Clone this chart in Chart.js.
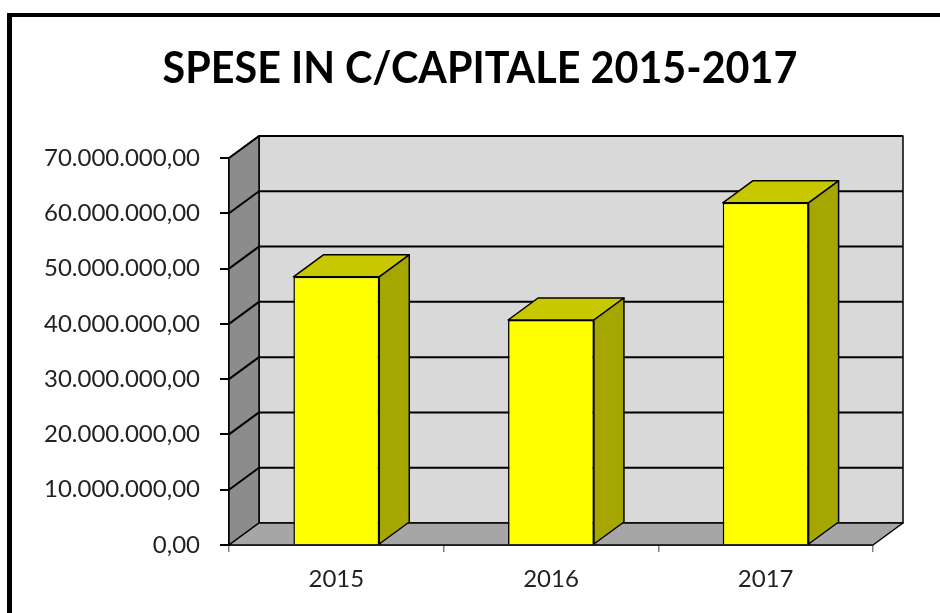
<!DOCTYPE html>
<html>
<head>
<meta charset="utf-8">
<script src="https://cdn.jsdelivr.net/npm/chart.js@4.4.1/dist/chart.umd.min.js"></script>
<style>
  html, body { margin: 0; padding: 0; background: #fff; }
  #wrap { position: relative; width: 940px; height: 613px; }
</style>
</head>
<body>
<div id="wrap"><canvas id="chart" width="940" height="613"></canvas></div>
<script>
// dati
const titolo = 'SPESE IN C/CAPITALE 2015-2017';
const anni = ['2015', '2016', '2017'];
const spese = [48500000, 40700000, 61900000];
const yMax = 70000000;
const yStep = 10000000;

// profondità 3D
const DX = 30;
const DY = 22;

// formato italiano 70.000.000,00
function formatIt(v) {
  const int = Math.round(v).toString().replace(/\B(?=(\d{3})+(?!\d))/g, '.');
  return int + ',00';
}

function poly(ctx, pts, fill) {
  ctx.beginPath();
  ctx.moveTo(pts[0][0], pts[0][1]);
  for (let i = 1; i < pts.length; i++) ctx.lineTo(pts[i][0], pts[i][1]);
  ctx.closePath();
  ctx.fillStyle = fill;
  ctx.fill();
  ctx.stroke();
}

const frame3d = {
  id: 'frame3d',
  beforeDraw(chart) {
    const ctx = chart.ctx;
    ctx.save();
    ctx.fillStyle = '#fff';
    ctx.fillRect(0, 0, chart.width, chart.height);
    // cornice
    ctx.fillStyle = '#000';
    ctx.fillRect(7, 13, chart.width - 7, 4);
    ctx.fillRect(7, 13, 5, chart.height - 13);
    // titolo (font un po' stretto come Calibri)
    ctx.translate(480, 83);
    ctx.scale(0.96, 1);
    ctx.font = 'bold 43px Lato';
    ctx.textAlign = 'center';
    ctx.textBaseline = 'alphabetic';
    ctx.fillStyle = '#000';
    ctx.fillText(titolo, 0, 0);
    ctx.restore();
  },
  beforeDatasetsDraw(chart) {
    const { ctx, chartArea: a } = chart;
    const y = chart.scales.y;
    const L = a.left, R = a.right, T = a.top, B = a.bottom;
    ctx.save();
    ctx.strokeStyle = '#000';
    ctx.lineWidth = 1.5;
    ctx.lineJoin = 'round';
    // parete di fondo
    poly(ctx, [[L + DX, T - DY], [R + DX, T - DY], [R + DX, B - DY], [L + DX, B - DY]], '#d9d9d9');
    // parete laterale
    poly(ctx, [[L, T], [L + DX, T - DY], [L + DX, B - DY], [L, B]], '#8c8c8c');
    // pavimento
    poly(ctx, [[L, B], [L + DX, B - DY], [R + DX, B - DY], [R, B]], '#a6a6a6');
    // griglia
    ctx.lineWidth = 2;
    for (let v = yStep; v <= yMax; v += yStep) {
      const py = y.getPixelForValue(v);
      ctx.beginPath();
      ctx.moveTo(L, py);
      ctx.lineTo(L + DX, py - DY);
      ctx.lineTo(R + DX, py - DY);
      ctx.stroke();
    }
    ctx.restore();
  },
  afterDatasetsDraw(chart) {
    const ctx = chart.ctx;
    ctx.save();
    ctx.strokeStyle = '#000';
    ctx.lineWidth = 1.5;
    ctx.lineJoin = 'round';
    chart.getDatasetMeta(0).data.forEach(bar => {
      const p = bar.getProps(['x', 'y', 'base', 'width'], true);
      const l = p.x - p.width / 2, r = p.x + p.width / 2;
      poly(ctx, [[l, p.y], [l + DX, p.y - DY], [r + DX, p.y - DY], [r, p.y]], '#c8c800');
      poly(ctx, [[r, p.y], [r + DX, p.y - DY], [r + DX, p.base - DY], [r, p.base]], '#a6a600');
    });
    ctx.restore();
  }
};

new Chart(document.getElementById('chart'), {
  type: 'bar',
  data: {
    labels: anni,
    datasets: [{
      data: spese,
      backgroundColor: '#ffff00',
      borderColor: '#000',
      borderWidth: 1.5,
      categoryPercentage: 1,
      barPercentage: 0.4
    }]
  },
  options: {
    responsive: false,
    animation: false,
    layout: { padding: { top: 158, right: 67, bottom: 0, left: 0 } },
    plugins: {
      legend: { display: false },
      title: { display: false },
      tooltip: { enabled: false }
    },
    scales: {
      x: {
        afterFit(scale) { scale.height = 68; },
        grid: { drawOnChartArea: false, tickLength: 7, color: '#808080', lineWidth: 1.5 },
        border: { color: '#000', width: 1.5 },
        ticks: { color: '#222', padding: 13, font: { family: 'Lato', size: 24 } }
      },
      y: {
        min: 0,
        max: yMax,
        afterFit(scale) { scale.width = 229; },
        grid: { drawOnChartArea: false, tickLength: 9, color: '#000', lineWidth: 2 },
        border: { color: '#000', width: 1.5 },
        ticks: {
          stepSize: yStep,
          color: '#222',
          padding: 20,
          font: { family: 'Lato', size: 24 },
          callback: v => formatIt(v)
        }
      }
    }
  },
  plugins: [frame3d]
});
</script>
</body>
</html>
